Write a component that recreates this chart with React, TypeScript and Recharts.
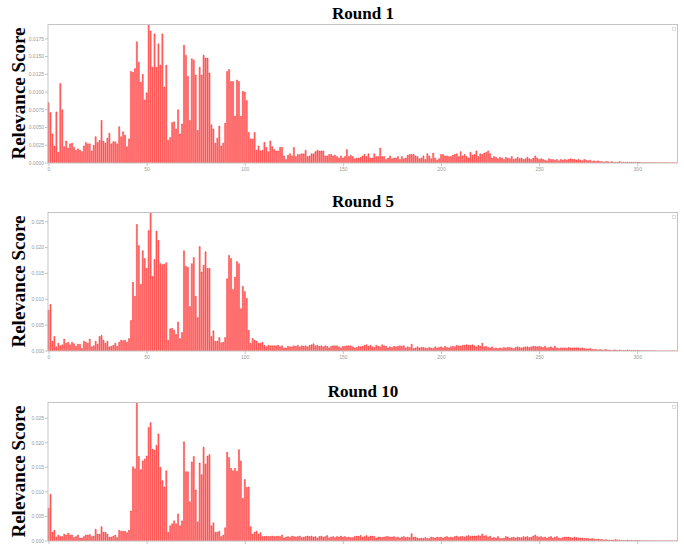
import React from 'react';
import { BarChart, Bar, XAxis, YAxis } from 'recharts';

// Token positions (categories)
const POSITIONS: number[] = Array.from({ length: 321 }, (_, i) => i);

const ROUND1: number[] = [
  0.0085, 0.0071, 0.0041, 0.0024, 0.0072, 0.0015, 0.0112, 0.0075, 0.0023, 0.0031,
  0.0021, 0.0027, 0.0028, 0.0022, 0.0018, 0.0020, 0.0018, 0.0016, 0.0024, 0.0029,
  0.0027, 0.0027, 0.0017, 0.0025, 0.0037, 0.0029, 0.0032, 0.0060, 0.0031, 0.0028,
  0.0035, 0.0042, 0.0027, 0.0030, 0.0030, 0.0027, 0.0051, 0.0037, 0.0044, 0.0039,
  0.0023, 0.0034, 0.0129, 0.0128, 0.0133, 0.0171, 0.0142, 0.0114, 0.0125, 0.0089,
  0.0099, 0.0196, 0.0186, 0.0135, 0.0182, 0.0135, 0.0168, 0.0138, 0.0182, 0.0107,
  0.0138, 0.0032, 0.0036, 0.0057, 0.0058, 0.0048, 0.0075, 0.0041, 0.0055, 0.0166,
  0.0152, 0.0122, 0.0060, 0.0147, 0.0145, 0.0124, 0.0046, 0.0135, 0.0124, 0.0152,
  0.0148, 0.0148, 0.0127, 0.0054, 0.0048, 0.0028, 0.0035, 0.0052, 0.0024, 0.0028,
  0.0056, 0.0129, 0.0132, 0.0115, 0.0115, 0.0066, 0.0117, 0.0115, 0.0066, 0.0101,
  0.0100, 0.0088, 0.0043, 0.0034, 0.0034, 0.0043, 0.0018, 0.0024, 0.0017, 0.0018,
  0.0029, 0.0022, 0.0016, 0.0031, 0.0023, 0.0019, 0.0017, 0.0017, 0.0022, 0.0022,
  0.0010, 0.0005, 0.0011, 0.0013, 0.0010, 0.0022, 0.0009, 0.0012, 0.0012, 0.0013,
  0.0013, 0.0018, 0.0009, 0.0010, 0.0013, 0.0013, 0.0016, 0.0018, 0.0017, 0.0017,
  0.0017, 0.0010, 0.0010, 0.0012, 0.0012, 0.0010, 0.0011, 0.0009, 0.0007, 0.0010,
  0.0007, 0.0009, 0.0019, 0.0009, 0.0011, 0.0009, 0.0006, 0.0007, 0.0007, 0.0008,
  0.0010, 0.0012, 0.0009, 0.0013, 0.0007, 0.0007, 0.0013, 0.0009, 0.0009, 0.0021,
  0.0009, 0.0009, 0.0005, 0.0007, 0.0010, 0.0006, 0.0007, 0.0007, 0.0009, 0.0005,
  0.0009, 0.0006, 0.0007, 0.0011, 0.0012, 0.0012, 0.0012, 0.0010, 0.0009, 0.0006,
  0.0007, 0.0010, 0.0005, 0.0013, 0.0010, 0.0006, 0.0014, 0.0007, 0.0004, 0.0006,
  0.0012, 0.0012, 0.0010, 0.0010, 0.0009, 0.0009, 0.0011, 0.0012, 0.0013, 0.0009,
  0.0016, 0.0010, 0.0012, 0.0009, 0.0007, 0.0015, 0.0011, 0.0012, 0.0017, 0.0009,
  0.0013, 0.0012, 0.0014, 0.0015, 0.0017, 0.0013, 0.0007, 0.0009, 0.0008, 0.0006,
  0.0008, 0.0007, 0.0005, 0.0008, 0.0007, 0.0006, 0.0009, 0.0005, 0.0006, 0.0008,
  0.0006, 0.0007, 0.0005, 0.0006, 0.0008, 0.0006, 0.0005, 0.0007, 0.0010, 0.0007,
  0.0005, 0.0006, 0.0005, 0.0004, 0.0003, 0.0006, 0.0005, 0.0005, 0.0004, 0.0005,
  0.0003, 0.0005, 0.0004, 0.0005, 0.0004, 0.0005, 0.0006, 0.0005, 0.0005, 0.0004,
  0.0005, 0.0004, 0.0003, 0.0005, 0.0004, 0.0003, 0.0004, 0.0002, 0.0003, 0.0002,
  0.0003, 0.0002, 0.0002, 0.0001, 0.0002, 0.0002, 0.0001, 0.0002, 0.0001, 0.0001,
  0.0001, 0.0002, 0.0001, 0.0001, 0.0001, 0.0001, 0.0001, 0.0001, 0.0001, 0.0001,
  0.0001, 0.0001, 0.00005, 0.00005, 0.00005, 0.00005, 0.00005, 0.00004, 0.00004, 0.00003,
  0.00002, 0.00002, 0.00002, 0.00002, 0.00002, 0.00002, 0.00002, 0.00002, 0.00002, 0.00002,
  0.00001,
];

const ROUND5: number[] = [
  0.0079, 0.0090, 0.0019, 0.0028, 0.0008, 0.0015, 0.0010, 0.0012, 0.0023, 0.0015,
  0.0017, 0.0012, 0.0017, 0.0014, 0.0009, 0.0013, 0.0013, 0.0005, 0.0019, 0.0017,
  0.0015, 0.0023, 0.0008, 0.0010, 0.0019, 0.0013, 0.0028, 0.0030, 0.0021, 0.0015,
  0.0019, 0.0008, 0.0009, 0.0011, 0.0015, 0.0009, 0.0017, 0.0021, 0.0020, 0.0021,
  0.0017, 0.0024, 0.0059, 0.0133, 0.0106, 0.0245, 0.0204, 0.0129, 0.0194, 0.0179,
  0.0160, 0.0233, 0.0269, 0.0144, 0.0177, 0.0232, 0.0214, 0.0169, 0.0167, 0.0168,
  0.0171, 0.0021, 0.0043, 0.0044, 0.0040, 0.0032, 0.0056, 0.0024, 0.0036, 0.0194,
  0.0164, 0.0162, 0.0086, 0.0169, 0.0181, 0.0106, 0.0065, 0.0202, 0.0153, 0.0166,
  0.0192, 0.0160, 0.0160, 0.0028, 0.0039, 0.0019, 0.0019, 0.0026, 0.0016, 0.0017,
  0.0026, 0.0140, 0.0185, 0.0179, 0.0119, 0.0143, 0.0173, 0.0169, 0.0082, 0.0125,
  0.0115, 0.0102, 0.0040, 0.0015, 0.0024, 0.0021, 0.0019, 0.0015, 0.0015, 0.0017,
  0.0011, 0.0008, 0.0011, 0.0010, 0.0010, 0.0010, 0.0010, 0.0011, 0.0008, 0.0010,
  0.0006, 0.0006, 0.0009, 0.0008, 0.0008, 0.0010, 0.0009, 0.0011, 0.0008, 0.0010,
  0.0009, 0.0010, 0.0008, 0.0011, 0.0012, 0.0014, 0.0010, 0.0011, 0.0009, 0.0010,
  0.0008, 0.0010, 0.0009, 0.0006, 0.0009, 0.0010, 0.0010, 0.0010, 0.0008, 0.0006,
  0.0009, 0.0009, 0.0010, 0.0010, 0.0010, 0.0008, 0.0006, 0.0007, 0.0009, 0.0008,
  0.0009, 0.0011, 0.0012, 0.0009, 0.0011, 0.0008, 0.0007, 0.0011, 0.0009, 0.0008,
  0.0012, 0.0010, 0.0009, 0.0006, 0.0008, 0.0007, 0.0009, 0.0008, 0.0009, 0.0010,
  0.0009, 0.0010, 0.0006, 0.0008, 0.0007, 0.0013, 0.0005, 0.0006, 0.0008, 0.0006,
  0.0007, 0.0007, 0.0006, 0.0005, 0.0007, 0.0006, 0.0005, 0.0008, 0.0006, 0.0007,
  0.0008, 0.0006, 0.0009, 0.0007, 0.0006, 0.0008, 0.0009, 0.0008, 0.0011, 0.0010,
  0.0009, 0.0011, 0.0011, 0.0012, 0.0011, 0.0011, 0.0012, 0.0010, 0.0008, 0.0011,
  0.0009, 0.0015, 0.0008, 0.0009, 0.0007, 0.0006, 0.0008, 0.0005, 0.0006, 0.0005,
  0.0006, 0.0005, 0.0007, 0.0006, 0.0007, 0.0007, 0.0006, 0.0005, 0.0007, 0.0008,
  0.0007, 0.0006, 0.0007, 0.0008, 0.0008, 0.0007, 0.0008, 0.0009, 0.0009, 0.0008,
  0.0009, 0.0008, 0.0007, 0.0009, 0.0006, 0.0007, 0.0008, 0.0006, 0.0009, 0.0006,
  0.0005, 0.0006, 0.0006, 0.0006, 0.0005, 0.0007, 0.0006, 0.0006, 0.0006, 0.0006,
  0.0006, 0.0005, 0.0006, 0.0005, 0.0004, 0.0004, 0.0005, 0.0003, 0.0003, 0.0003,
  0.0002, 0.0003, 0.0002, 0.0002, 0.0003, 0.0002, 0.0002, 0.0001, 0.0002, 0.0002,
  0.0001, 0.0002, 0.0001, 0.0001, 0.0001, 0.0002, 0.0001, 0.0001, 0.0001, 0.0001,
  0.0001, 0.0001, 0.00005, 0.00005, 0.00005, 0.00005, 0.00005, 0.00004, 0.00004, 0.00003,
  0.00002, 0.00002, 0.00002, 0.00002, 0.00002, 0.00002, 0.00002, 0.00002, 0.00002, 0.00002,
  0.00001,
];

const ROUND10: number[] = [
  0.0067, 0.0095, 0.0018, 0.0022, 0.0008, 0.0012, 0.0009, 0.0009, 0.0014, 0.0012,
  0.0016, 0.0012, 0.0012, 0.0007, 0.0009, 0.0012, 0.0006, 0.0006, 0.0009, 0.0012,
  0.0012, 0.0013, 0.0009, 0.0010, 0.0024, 0.0014, 0.0014, 0.0029, 0.0018, 0.0018,
  0.0014, 0.0008, 0.0008, 0.0010, 0.0012, 0.0007, 0.0022, 0.0020, 0.0020, 0.0020,
  0.0017, 0.0022, 0.0061, 0.0151, 0.0147, 0.0283, 0.0172, 0.0145, 0.0163, 0.0167,
  0.0173, 0.0231, 0.0241, 0.0187, 0.0185, 0.0195, 0.0218, 0.0150, 0.0123, 0.0110,
  0.0143, 0.0018, 0.0031, 0.0035, 0.0041, 0.0035, 0.0055, 0.0031, 0.0041, 0.0202,
  0.0141, 0.0141, 0.0080, 0.0161, 0.0172, 0.0104, 0.0039, 0.0159, 0.0135, 0.0191,
  0.0157, 0.0173, 0.0176, 0.0031, 0.0037, 0.0018, 0.0018, 0.0020, 0.0009, 0.0012,
  0.0027, 0.0181, 0.0170, 0.0148, 0.0143, 0.0148, 0.0142, 0.0186, 0.0163, 0.0087,
  0.0125, 0.0109, 0.0110, 0.0029, 0.0014, 0.0018, 0.0020, 0.0014, 0.0017, 0.0009,
  0.0009, 0.0010, 0.0009, 0.0009, 0.0010, 0.0009, 0.0009, 0.0010, 0.0009, 0.0012,
  0.0006, 0.0008, 0.0009, 0.0007, 0.0010, 0.0009, 0.0008, 0.0009, 0.0010, 0.0007,
  0.0008, 0.0009, 0.0010, 0.0009, 0.0010, 0.0008, 0.0009, 0.0006, 0.0009, 0.0010,
  0.0008, 0.0009, 0.0011, 0.0006, 0.0008, 0.0009, 0.0007, 0.0009, 0.0008, 0.0010,
  0.0008, 0.0009, 0.0007, 0.0008, 0.0007, 0.0007, 0.0009, 0.0010, 0.0009, 0.0011,
  0.0008, 0.0009, 0.0011, 0.0008, 0.0010, 0.0010, 0.0009, 0.0006, 0.0008, 0.0008,
  0.0007, 0.0008, 0.0009, 0.0009, 0.0008, 0.0008, 0.0009, 0.0007, 0.0008, 0.0006,
  0.0008, 0.0009, 0.0007, 0.0008, 0.0007, 0.0015, 0.0008, 0.0008, 0.0006, 0.0005,
  0.0006, 0.0005, 0.0007, 0.0005, 0.0005, 0.0008, 0.0007, 0.0006, 0.0008, 0.0007,
  0.0008, 0.0006, 0.0008, 0.0009, 0.0007, 0.0008, 0.0007, 0.0009, 0.0010, 0.0008,
  0.0009, 0.0009, 0.0008, 0.0010, 0.0011, 0.0009, 0.0010, 0.0010, 0.0010, 0.0011,
  0.0010, 0.0014, 0.0010, 0.0011, 0.0008, 0.0010, 0.0006, 0.0007, 0.0006, 0.0009,
  0.0005, 0.0005, 0.0006, 0.0009, 0.0008, 0.0006, 0.0007, 0.0008, 0.0006, 0.0008,
  0.0007, 0.0007, 0.0009, 0.0008, 0.0009, 0.0007, 0.0008, 0.0010, 0.0012, 0.0009,
  0.0008, 0.0009, 0.0007, 0.0008, 0.0006, 0.0008, 0.0009, 0.0006, 0.0008, 0.0009,
  0.0006, 0.0005, 0.0007, 0.0008, 0.0008, 0.0008, 0.0007, 0.0006, 0.0008, 0.0007,
  0.0006, 0.0006, 0.0006, 0.0005, 0.0005, 0.0005, 0.0004, 0.0005, 0.0004, 0.0003,
  0.0004, 0.0003, 0.0003, 0.0002, 0.0003, 0.0002, 0.0002, 0.0002, 0.0002, 0.0003,
  0.0002, 0.0002, 0.0001, 0.0001, 0.0001, 0.0002, 0.0001, 0.0001, 0.0001, 0.0001,
  0.0001, 0.0001, 0.00005, 0.00005, 0.00005, 0.00005, 0.00005, 0.00004, 0.00004, 0.00003,
  0.00002, 0.00002, 0.00002, 0.00002, 0.00002, 0.00002, 0.00002, 0.00002, 0.00002, 0.00002,
  0.00001,
];

const TITLES: string[] = ['Round 1', 'Round 5', 'Round 10'];
const Y_TICKS_R1: number[] = [0, 0.0025, 0.005, 0.0075, 0.01, 0.0125, 0.015, 0.0175];
const Y_TICKS_R5: number[] = [0, 0.005, 0.01, 0.015, 0.02, 0.025];
const Y_TICKS_R10: number[] = [0, 0.005, 0.01, 0.015, 0.02, 0.025];
const Y_LABEL = 'Relevance Score';

const CHART_W = 684;
const CHART_H = 189;
const PLOT_LEFT = 48;
const PLOT_TOP = 24;
const PLOT_W = 630;
const PLOT_H = 139;
const FRAME = '#c4c4c4';
const TICK_COLOR = '#9a9a9a';

type PanelProps = {
  top: number;
  values: number[];
  yMax: number;
  ticks: number[];
  decimals: number;
  showXLabels: boolean;
};

function Panel({ top, values, yMax, ticks, decimals, showXLabels }: PanelProps) {
  const data = POSITIONS.map((i) => ({ i, v: values[i] }));
  const tickStyle = { fontSize: 5, fill: TICK_COLOR, fontFamily: 'Liberation Sans, Arial, sans-serif' };
  return (
    <div style={{ position: 'absolute', left: 0, top, width: CHART_W, height: CHART_H }}>
      <BarChart
        width={CHART_W}
        height={CHART_H}
        data={data}
        margin={{ top: PLOT_TOP, right: CHART_W - PLOT_LEFT - PLOT_W, bottom: CHART_H - PLOT_TOP - PLOT_H - 20, left: 0 }}
        barCategoryGap={0}
        barGap={0}
      >
        <XAxis
          dataKey="i"
          interval={49}
          height={20}
          tick={showXLabels ? tickStyle : () => <g />}
          tickLine={{ stroke: FRAME }}
          axisLine={{ stroke: FRAME }}
          tickSize={3}
          tickMargin={1}
        />
        <YAxis
          type="number"
          domain={[0, yMax]}
          ticks={ticks}
          allowDataOverflow
          width={PLOT_LEFT}
          tick={tickStyle}
          tickLine={{ stroke: FRAME }}
          axisLine={{ stroke: FRAME }}
          tickSize={3}
          tickMargin={1}
          tickFormatter={(v: number) => v.toFixed(decimals)}
        />
        <Bar
          dataKey="v"
          fill="#ff0000"
          fillOpacity={0.5}
          stroke="#ff0000"
          strokeWidth={0.4}
          barSize={1.1}
          isAnimationActive={false}
        />
      </BarChart>
      <div
        style={{
          position: 'absolute',
          left: PLOT_LEFT,
          top: PLOT_TOP,
          width: PLOT_W,
          height: PLOT_H,
          borderTop: `1px solid ${FRAME}`,
          borderRight: `1px solid ${FRAME}`,
          boxSizing: 'border-box',
          pointerEvents: 'none',
        }}
      />
    </div>
  );
}

const PANEL_TOPS = [0, 188, 378];

export default function App() {
  return (
    <div style={{ position: 'absolute', left: 0, top: 0, width: 684, height: 544, overflow: 'hidden', background: '#fff' }}>
      <Panel top={PANEL_TOPS[0]} values={ROUND1} yMax={0.0196} ticks={Y_TICKS_R1} decimals={4} showXLabels />
      <Panel top={PANEL_TOPS[1]} values={ROUND5} yMax={0.0269} ticks={Y_TICKS_R5} decimals={3} showXLabels />
      <Panel top={PANEL_TOPS[2]} values={ROUND10} yMax={0.0283} ticks={Y_TICKS_R10} decimals={3} showXLabels={false} />
      <svg width={684} height={544} style={{ position: 'absolute', left: 0, top: 0, pointerEvents: 'none' }}>
        {PANEL_TOPS.map((t, k) => (
          <g key={k}>
            <text
              x={PLOT_LEFT + PLOT_W / 2}
              y={t + 19}
              textAnchor="middle"
              fontFamily="Liberation Serif, Times New Roman, serif"
              fontWeight="bold"
              fontSize={17}
              fill="#000"
            >
              {TITLES[k]}
            </text>
            <text
              x={25}
              y={t + PLOT_TOP + PLOT_H / 2}
              transform={`rotate(-90, 25, ${t + PLOT_TOP + PLOT_H / 2})`}
              textAnchor="middle"
              fontFamily="Liberation Serif, Times New Roman, serif"
              fontWeight="bold"
              fontSize={19}
              fill="#000"
            >
              {Y_LABEL}
            </text>
            <rect x={672.5} y={t + 27.5} width={3} height={3} fill="none" stroke="#d8d8d8" strokeWidth={0.8} />
          </g>
        ))}
      </svg>
    </div>
  );
}
